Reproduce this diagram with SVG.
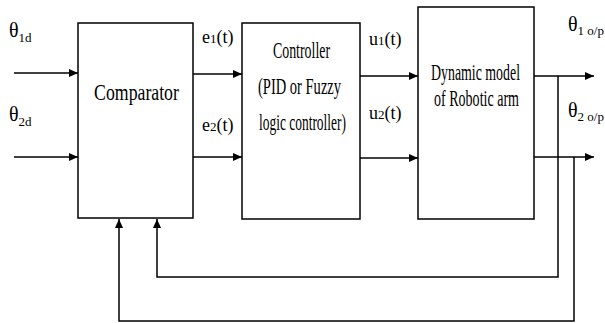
<svg xmlns="http://www.w3.org/2000/svg" width="605" height="323" viewBox="0 0 605 323">
<style>
  .box { fill: #fff; stroke: #000; stroke-width: 1.5; }
  .ln { fill: none; stroke: #000; stroke-width: 1.5; }
  .t { font-family: 'Liberation Serif', 'Times New Roman', serif; fill: #000; }
  .big { font-size: 24px; text-anchor: middle; }
  .sig { font-size: 18px; }
  .sub { font-size: 13px; }
</style>
<defs>
  <marker id="arr" markerWidth="10" markerHeight="10" refX="9" refY="5" orient="auto" markerUnits="userSpaceOnUse">
    <path d="M0,1 L9,5 L0,9 Z" fill="#000"/>
  </marker>
</defs>
<rect width="605" height="323" fill="#fff"/>

<g id="comparator">
  <rect class="box" x="78" y="23" width="115" height="195"/>
  <text class="t big" transform="translate(136.5,100) scale(0.74,1)">Comparator</text>
</g>

<g id="controller">
  <rect class="box" x="242" y="23" width="118" height="196"/>
  <text class="t big" transform="translate(301.5,58) scale(0.58,1)">Controller</text>
  <text class="t big" transform="translate(299.5,94) scale(0.605,1)">(PID or Fuzzy</text>
  <text class="t big" transform="translate(302.5,130) scale(0.56,1)">logic controller)</text>
</g>

<g id="robot">
  <rect class="box" x="418" y="7" width="116" height="212"/>
  <text class="t big" transform="translate(475.5,80) scale(0.578,1)">Dynamic model</text>
  <text class="t big" transform="translate(476.5,106) scale(0.585,1)">of Robotic arm</text>
</g>

<g id="labels">
  <text class="t" x="9" y="37"><tspan font-size="20">θ</tspan><tspan class="sub" dy="5">1d</tspan></text>
  <text class="t" x="9" y="121"><tspan font-size="20">θ</tspan><tspan class="sub" dy="5">2d</tspan></text>
  <text class="t sig" x="202" y="43">e<tspan font-size="13">1</tspan>(t)</text>
  <text class="t sig" x="202" y="131">e<tspan font-size="13">2</tspan>(t)</text>
  <text class="t sig" x="369" y="45">u<tspan font-size="13">1</tspan>(t)</text>
  <text class="t sig" x="369" y="119">u<tspan font-size="13">2</tspan>(t)</text>
  <text class="t" x="568" y="31"><tspan font-size="20">θ</tspan><tspan class="sub" dy="4">1 o/p</tspan></text>
  <text class="t" x="568" y="117"><tspan font-size="20">θ</tspan><tspan class="sub" dy="4">2 o/p</tspan></text>
</g>

<g id="connectors">
  <line class="ln" x1="14" y1="73" x2="78" y2="73" marker-end="url(#arr)"/>
  <line class="ln" x1="14" y1="157" x2="78" y2="157" marker-end="url(#arr)"/>
  <line class="ln" x1="193" y1="74" x2="242" y2="74" marker-end="url(#arr)"/>
  <line class="ln" x1="193" y1="157" x2="242" y2="157" marker-end="url(#arr)"/>
  <line class="ln" x1="360" y1="76" x2="418" y2="76" marker-end="url(#arr)"/>
  <line class="ln" x1="360" y1="158" x2="418" y2="158" marker-end="url(#arr)"/>
  <line class="ln" x1="534" y1="76" x2="594" y2="76" marker-end="url(#arr)"/>
  <line class="ln" x1="534" y1="157" x2="594" y2="157" marker-end="url(#arr)"/>
  <polyline class="ln" points="558,76 558,277 157,277 157,219" marker-end="url(#arr)"/>
  <polyline class="ln" points="574,157 574,321 119,321 119,219" marker-end="url(#arr)"/>
</g>
</svg>
